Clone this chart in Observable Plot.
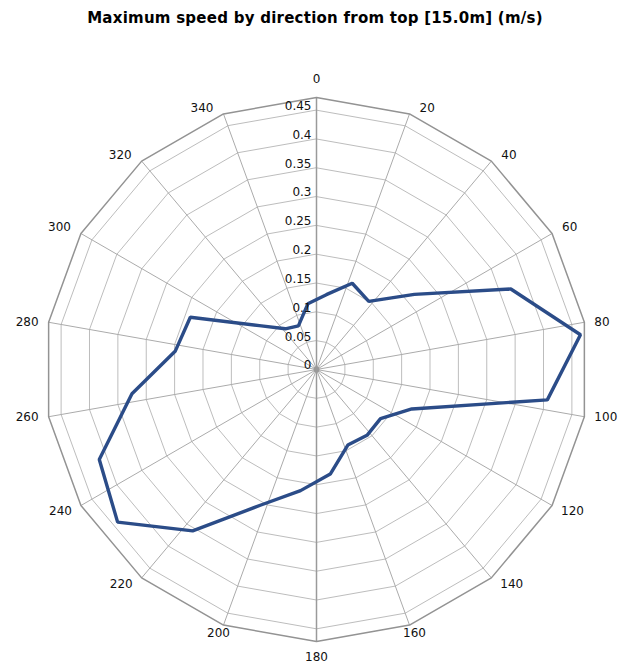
<!DOCTYPE html>
<html><head><meta charset="utf-8">
<script src="https://cdn.jsdelivr.net/npm/d3@7"></script>
<script src="https://cdn.jsdelivr.net/npm/@observablehq/plot@0.6"></script>
<style>
body{margin:0;background:#fff;font-family:"DejaVu Sans",Verdana,sans-serif;}
#title{width:608px;padding-left:11px;height:36px;line-height:36px;text-align:center;font-weight:bold;font-size:15px;letter-spacing:0.25px;color:#000;white-space:nowrap;}
#chart svg{display:block;}
</style></head><body>
<div id="title">Maximum speed by direction from top [15.0m] (m/s)</div>
<div id="chart"></div>
<script>
// Direction axis labels (degrees)
const directionLabels = [0,20,40,60,80,100,120,140,160,180,200,220,240,260,280,300,320,340];
// Radial grid values and tick labels
const ringValues = [0.05,0.1,0.15,0.2,0.25,0.3,0.35,0.4,0.45];
const tickValues = [0,0.05,0.1,0.15,0.2,0.25,0.3,0.35,0.4,0.45];
const tickLabels = ["0","0.05","0.1","0.15","0.2","0.25","0.3","0.35","0.4","0.45"];
const axisMax = 0.472;
// Series: sector centre directions and maximum speed (m/s)
const sectorDirections = [7.5,22.5,37.5,52.5,67.5,82.5,97.5,112.5,127.5,142.5,157.5,172.5,187.5,202.5,217.5,232.5,247.5,262.5,277.5,292.5,307.5,322.5,337.5,352.5];
const maxSpeed = [0.131,0.162,0.149,0.214,0.365,0.462,0.404,0.179,0.140,0.144,0.142,0.183,0.212,0.255,0.353,0.435,0.408,0.323,0.247,0.237,0.125,0.089,0.082,0.115];

const rad = d => d * Math.PI / 180;
const toX = (deg, v) => v * Math.sin(rad(deg));
const toY = (deg, v) => v * Math.cos(rad(deg));

const rings = [];
for (const v of [...ringValues, axisMax]) {
  for (const a of directionLabels) rings.push({ring: v, x: toX(a, v), y: toY(a, v), outer: v === axisMax});
}
const spokes = directionLabels.map(a => ({a, x2: toX(a, axisMax), y2: toY(a, axisMax), main: a % 180 === 0}));
const series = sectorDirections.map((a, i) => ({a, v: maxSpeed[i], x: toX(a, maxSpeed[i]), y: toY(a, maxSpeed[i])}));
const ticks = tickValues.map((v, i) => ({x: 0, y: v, label: tickLabels[i]}));
const dirLabels = directionLabels.map(a => ({a, x: toX(a, axisMax), y: toY(a, axisMax), label: String(a)}));

function labelGroup(filter, anchor, dx, dy) {
  return Plot.text(dirLabels.filter(filter), {x: "x", y: "y", text: "label", textAnchor: anchor, dx, dy, fill: "#111", fontSize: 12});
}

const chart = Plot.plot({
  width: 619, height: 634,
  marginLeft: 44, marginRight: 31, marginTop: 61, marginBottom: 29,
  x: {domain: [-axisMax, axisMax], axis: null},
  y: {domain: [-axisMax, axisMax], axis: null},
  style: {fontFamily: "DejaVu Sans, Verdana, sans-serif", fontSize: "12px", background: "white"},
  marks: [
    Plot.line(rings.filter(d => !d.outer), {x: "x", y: "y", z: "ring", curve: "linear-closed", stroke: "#bdbdbd", strokeWidth: 1}),
    Plot.link(spokes.filter(d => !d.main), {x1: 0, y1: 0, x2: "x2", y2: "y2", stroke: "#ababab", strokeWidth: 1}),
    Plot.link(spokes.filter(d => d.main), {x1: 0, y1: 0, x2: "x2", y2: "y2", stroke: "#9a9a9a", strokeWidth: 1.5}),
    Plot.line(rings.filter(d => d.outer), {x: "x", y: "y", curve: "linear-closed", stroke: "#939393", strokeWidth: 1.5}),
    Plot.dot([{x: 0, y: 0}], {x: "x", y: "y", r: 3, fill: "#999", stroke: "none"}),
    Plot.line(series, {x: "x", y: "y", curve: "linear-closed", stroke: "#2b4c88", strokeWidth: 3.4, strokeLinejoin: "miter"}),
    Plot.text(ticks, {x: "x", y: "y", text: "label", textAnchor: "end", dx: -5, dy: -4, fill: "#111", fontSize: 12}),
    labelGroup(d => d.a === 0, "middle", 0, -18),
    labelGroup(d => d.a === 180, "middle", 0, 16),
    labelGroup(d => [20, 40, 60].includes(d.a), "start", 10, -6),
    labelGroup(d => [80, 100].includes(d.a), "start", 10, 0),
    labelGroup(d => [120, 140].includes(d.a), "start", 9, 6),
    labelGroup(d => d.a === 160, "middle", 5, 8),
    labelGroup(d => d.a === 200, "middle", -5, 8),
    labelGroup(d => [220, 240].includes(d.a), "end", -9, 6),
    labelGroup(d => [260, 280].includes(d.a), "end", -10, 0),
    labelGroup(d => [300, 320, 340].includes(d.a), "end", -10, -6)
  ]
});
document.getElementById("chart").appendChild(chart);
</script>
</body></html>
